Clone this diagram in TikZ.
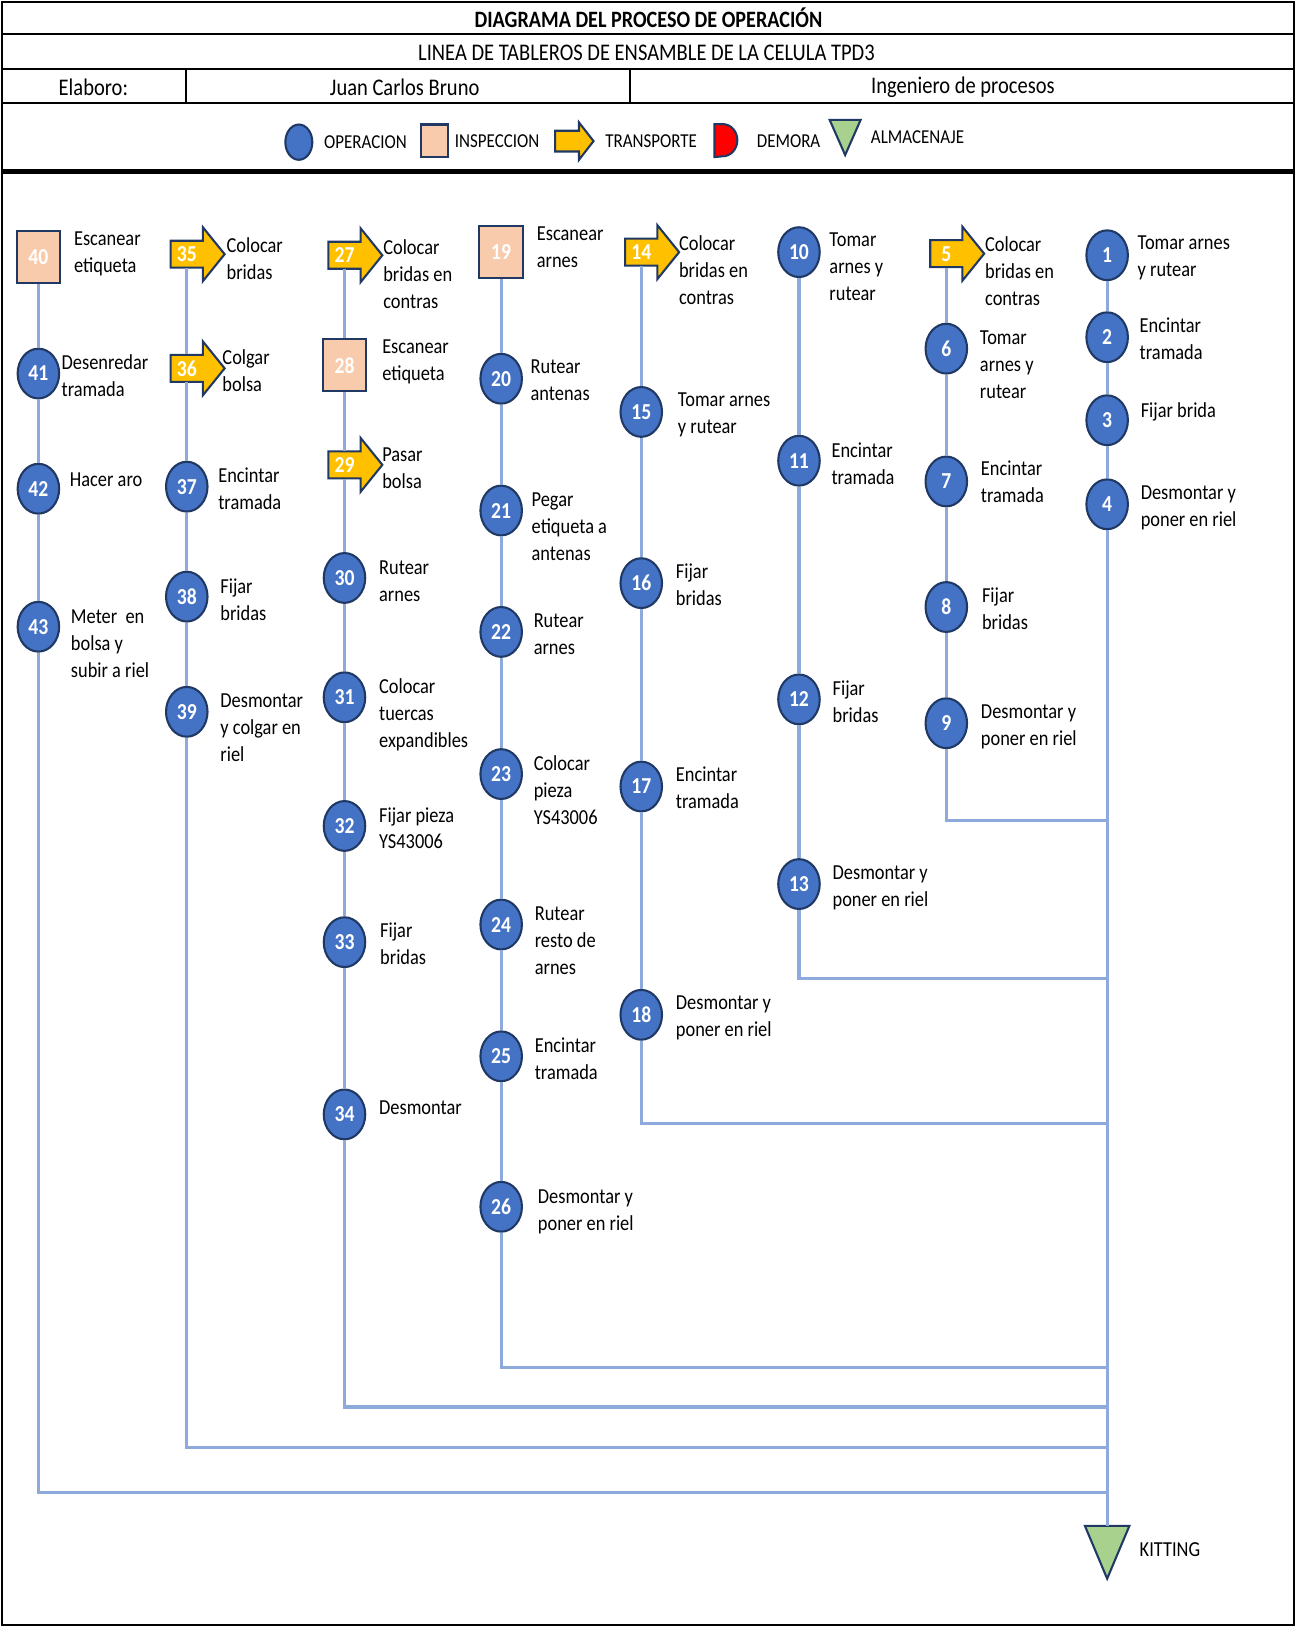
\documentclass[tikz,border=0pt]{standalone}
\usepackage{fontspec}
\setmainfont{Carlito}[FakeStretch=0.86]
\usetikzlibrary{shapes.geometric,backgrounds}
\definecolor{opblue}{HTML}{4472C4}
\definecolor{navy}{HTML}{1F3864}
\definecolor{peach}{HTML}{F8CBAD}
\definecolor{gold}{HTML}{FFC000}
\definecolor{flowc}{HTML}{8EA9DB}
\definecolor{greentri}{HTML}{A9D18E}
\definecolor{demred}{HTML}{FF0000}
\begin{document}
\begin{tikzpicture}[x=0.5pt,y=-0.5pt,
  numfont/.style={font=\bfseries\fontsize{11}{13}\selectfont},
  opnode/.style={ellipse, fill=opblue, draw=navy, line width=1pt, minimum width=20pt, minimum height=24pt, inner sep=0pt, text=white, numfont},
  insnode/.style={rectangle, fill=peach, draw=navy, line width=1pt, minimum width=21pt, minimum height=25pt, inner sep=0pt, text=white, numfont},
  trnode/.style={rectangle, minimum width=15.5pt, minimum height=13pt, inner sep=0pt, text=white, numfont},
  trpoly/.style={fill=gold, draw=navy, line width=1pt, line join=miter},
  tripoly/.style={fill=greentri, draw=navy, line width=1pt, line join=miter},
  lbl/.style={anchor=west, inner sep=0pt, yshift=-1.5pt, align=left, font=\fontsize{10.3}{13}\selectfont, execute at begin node=\strut, execute at end node=\strut},
  hdr/.style={inner sep=0pt, font=\fontsize{11.5}{13}\selectfont},
  leg/.style={anchor=west, inner sep=0pt, font=\fontsize{9.5}{11}\selectfont},
  flow/.style={draw=flowc, line width=1.5pt},
]
\useasboundingbox (0,0) rectangle (1249,1568);

% ---------- header ----------
\node[inner sep=0pt, font=\bfseries\fontsize{11.3}{13}\selectfont] (title) at (625,17.5) {DIAGRAMA DEL PROCESO DE OPERACIÓN};
\node[hdr] (sub) at (623,51) {LINEA DE TABLEROS DE ENSAMBLE DE LA CELULA TPD3};
\node[hdr] (elab) at (90,84) {Elaboro:};
\node[hdr] (autor) at (390,84) {Juan Carlos Bruno};
\node[hdr] (cargo) at (928,84) {Ingeniero de procesos};

% ---------- legend ----------
\node[opnode, minimum width=13pt, minimum height=17pt] (lgop) at (288,137) {};
\node[leg] (lgopt) at (312,137) {OPERACION};
\node[insnode, minimum width=13pt, minimum height=15.5pt] (lgin) at (419,135.5) {};
\node[leg] (lgint) at (438,136) {INSPECCION};
\node[trnode, minimum width=11.5pt, minimum height=10pt] (lgtr) at (546.5,136) {};
\node[leg] (lgtrt) at (583,136) {TRANSPORTE};
\node[inner sep=0pt, minimum width=11pt, minimum height=15.5pt] (lgde) at (700,135.5) {};
\filldraw[fill=demred, draw=navy, line width=1pt] (lgde.north west) -- ++(8,0) arc[start angle=-90, end angle=90, x radius=14, y radius=15.5] -- (lgde.south west) -- cycle;
\node[leg] (lgdet) at (729,136) {DEMORA};
\node[inner sep=0pt, minimum width=14.5pt, minimum height=16.5pt] (lgal) at (814.5,132.5) {};
\filldraw[tripoly] (lgal.north west) -- (lgal.north east) -- (lgal.south) -- cycle;
\node[leg] (lgalt) at (839,132) {ALMACENAJE};

% ---------- column A ----------
\node[insnode] (n40) at (37,248) {40};
\node[opnode] (n41) at (37,360) {41};
\node[opnode] (n42) at (37,471) {42};
\node[opnode] (n43) at (37,604) {43};
% ---------- column B ----------
\node[trnode] (n35) at (180,245) {35};
\node[trnode] (n36) at (180,355) {36};
\node[opnode] (n37) at (180,469) {37};
\node[opnode] (n38) at (180,575) {38};
\node[opnode] (n39) at (180,686) {39};
% ---------- column C ----------
\node[trnode] (n27) at (332,246) {27};
\node[insnode] (n28) at (332,352) {28};
\node[trnode] (n29) at (332,448) {29};
\node[opnode] (n30) at (332,557) {30};
\node[opnode] (n31) at (332,672) {31};
\node[opnode] (n32) at (332,796) {32};
\node[opnode] (n33) at (332,908) {33};
\node[opnode] (n34) at (332,1074) {34};
% ---------- column D ----------
\node[insnode] (n19) at (483,243) {19};
\node[opnode] (n20) at (483,365) {20};
\node[opnode] (n21) at (483,492) {21};
\node[opnode] (n22) at (483,609) {22};
\node[opnode] (n23) at (483,746) {23};
\node[opnode] (n24) at (483,891) {24};
\node[opnode] (n25) at (483,1018) {25};
\node[opnode] (n26) at (483,1163) {26};
% ---------- column E ----------
\node[trnode] (n14) at (618,243) {14};
\node[opnode] (n15) at (618,397) {15};
\node[opnode] (n16) at (618,562) {16};
\node[opnode] (n17) at (618,758) {17};
\node[opnode] (n18) at (618,978) {18};
% ---------- column F ----------
\node[opnode] (n10) at (770,243) {10};
\node[opnode] (n11) at (770,444) {11};
\node[opnode] (n12) at (770,674) {12};
\node[opnode] (n13) at (770,852) {13};
% ---------- column G ----------
\node[trnode] (n5) at (912,244.5) {5};
\node[opnode] (n6) at (912,336) {6};
\node[opnode] (n7) at (912,464) {7};
\node[opnode] (n8) at (912,585) {8};
\node[opnode] (n9) at (912,697) {9};
% ---------- column H ----------
\node[opnode] (n1) at (1067,246) {1};
\node[opnode] (n2) at (1067,325) {2};
\node[opnode] (n3) at (1067,405) {3};
\node[opnode] (n4) at (1067,486) {4};
\node[inner sep=0pt, minimum width=21pt, minimum height=25pt] (kit) at (1067,1496) {};
\filldraw[tripoly] (kit.north west) -- (kit.north east) -- (kit.south) -- cycle;

% transport arrow bodies (behind their numbers)
\begin{pgfonlayer}{background}
\foreach \n in {n35,n36,n27,n29,n14,n5}{
  \path[trpoly] (\n.center) ++(-15.5,-13) -- ++(31,0) -- ++(0,-13) -- ++(21,26) -- ++(-21,26) -- ++(0,-13) -- ++(-31,0) -- cycle;
}
\path[trpoly] (lgtr.center) ++(-11.5,-10) -- ++(23,0) -- ++(0,-8) -- ++(14,18) -- ++(-14,18) -- ++(0,-8) -- ++(-23,0) -- cycle;
\end{pgfonlayer}

% ---------- junction points on the main line ----------
\coordinate (hG) at (1069,791);
\coordinate (hF) at (1069,943);
\coordinate (hE) at (1069,1083);
\coordinate (hD) at (1069,1318);
\coordinate (hC) at (1069,1356);
\coordinate (hB) at (1069,1395);
\coordinate (hA) at (1069,1438);

% ---------- connectors ----------
\draw[flow] (n40) -- (n41) -- (n42) -- (n43) -- (n43 |- hA) -- (hA);
\draw[flow] (n35) -- (n36) -- (n37) -- (n38) -- (n39) -- (n39 |- hB) -- (hB);
\draw[flow] (n27) -- (n28) -- (n29) -- (n30) -- (n31) -- (n32) -- (n33) -- (n34) -- (n34 |- hC) -- (hC);
\draw[flow] (n19) -- (n20) -- (n21) -- (n22) -- (n23) -- (n24) -- (n25) -- (n26) -- (n26 |- hD) -- (hD);
\draw[flow] (n14) -- (n15) -- (n16) -- (n17) -- (n18) -- (n18 |- hE) -- (hE);
\draw[flow] (n10) -- (n11) -- (n12) -- (n13) -- (n13 |- hF) -- (hF);
\draw[flow] (n5) -- (n6) -- (n7) -- (n8) -- (n9) -- (n9 |- hG) -- (hG);
\draw[flow] (n1) -- (n2) -- (n3) -- (n4) -- (kit.north);

% ---------- labels ----------
\node[lbl] (t40) at (71,244) {Escanear\\etiqueta};
\node[lbl] (t41) at (59,363) {Desenredar\\tramada};
\node[lbl] (t42) at (67,461) {Hacer aro};
\node[lbl] (t43) at (68,621) {Meter\ \ en\\bolsa y\\subir a riel};
\node[lbl] (t35) at (218,250) {Colocar\\bridas};
\node[lbl] (t36) at (214,358) {Colgar\\bolsa};
\node[lbl] (t37) at (210,472) {Encintar\\tramada};
\node[lbl] (t38) at (212,579) {Fijar\\bridas};
\node[lbl] (t39) at (212,702) {Desmontar\\y colgar en\\riel};
\node[lbl] (t27) at (369,265) {Colocar\\bridas en\\contras};
\node[lbl] (t28) at (368,348) {Escanear\\etiqueta};
\node[lbl] (t29) at (368,452) {Pasar\\bolsa};
\node[lbl] (t30) at (365,561) {Rutear\\arnes};
\node[lbl] (t31) at (365,688) {Colocar\\tuercas\\expandibles};
\node[lbl] (t32) at (365,799) {Fijar pieza\\YS43006};
\node[lbl] (t33) at (366,910) {Fijar\\bridas};
\node[lbl] (t34) at (365,1066) {Desmontar};
\node[lbl] (t19) at (517,239) {Escanear\\arnes};
\node[lbl] (t20) at (511,367) {Rutear\\antenas};
\node[lbl] (t21) at (512,508) {Pegar\\etiqueta a\\antenas};
\node[lbl] (t22) at (514,612) {Rutear\\arnes};
\node[lbl] (t23) at (514,762) {Colocar\\pieza\\YS43006};
\node[lbl] (t24) at (515,907) {Rutear\\resto de\\arnes};
\node[lbl] (t25) at (515,1021) {Encintar\\tramada};
\node[lbl] (t26) at (518,1167) {Desmontar y\\poner en riel};
\node[lbl] (t14) at (654,261) {Colocar\\bridas en\\contras};
\node[lbl] (t15) at (653,399) {Tomar arnes\\y rutear};
\node[lbl] (t16) at (651,564) {Fijar\\bridas};
\node[lbl] (t17) at (651,760) {Encintar\\tramada};
\node[lbl] (t18) at (651,980) {Desmontar y\\poner en riel};
\node[lbl] (t10) at (799,258) {Tomar\\arnes y\\rutear};
\node[lbl] (t11) at (801,448) {Encintar\\tramada};
\node[lbl] (t12) at (802,677) {Fijar\\bridas};
\node[lbl] (t13) at (802,855) {Desmontar y\\poner en riel};
\node[lbl] (t5) at (949,262) {Colocar\\bridas en\\contras};
\node[lbl] (t6) at (944,352) {Tomar\\arnes y\\rutear};
\node[lbl] (t7) at (945,465) {Encintar\\tramada};
\node[lbl] (t8) at (946,587) {Fijar\\bridas};
\node[lbl] (t9) at (945,700) {Desmontar y\\poner en riel};
\node[lbl] (t1) at (1096,248) {Tomar arnes\\y rutear};
\node[lbl] (t2) at (1098,327) {Encintar\\tramada};
\node[lbl] (t3) at (1099,394) {Fijar brida};
\node[lbl] (t4) at (1099,489) {Desmontar y\\poner en riel};
\node[lbl] (tK) at (1098,1492) {KITTING};

% ---------- table frame ----------
\draw[line width=1.2pt] (2,2) rectangle (1247,1566);
\draw[line width=1pt] (2,33) -- (1247,33);
\draw[line width=1pt] (2,66.5) -- (1247,66.5);
\draw[line width=1pt] (2,99) -- (1247,99);
\draw[line width=2.5pt] (2,165) -- (1247,165);
\draw[line width=1pt] (179,66.5) -- (179,99);
\draw[line width=1pt] (607,66.5) -- (607,99);
\end{tikzpicture}
\end{document}
